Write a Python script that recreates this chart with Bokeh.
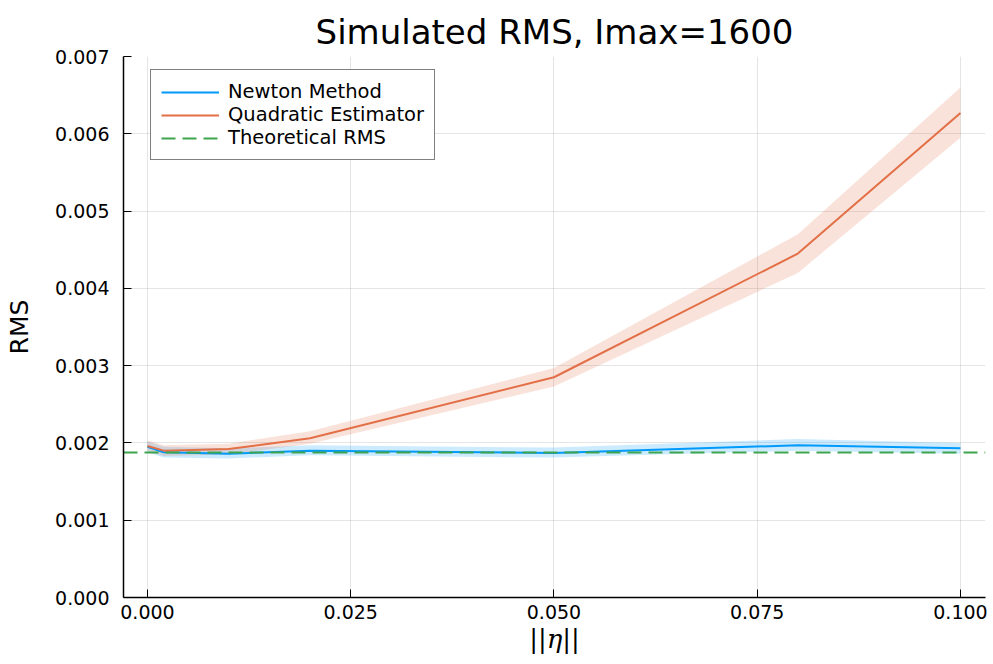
from bokeh.plotting import figure
from bokeh.models import Range1d, FixedTicker, NumeralTickFormatter, Legend, LegendItem
from bokeh.embed import file_html
from bokeh.resources import INLINE

eta = [0.0, 0.002, 0.01, 0.02, 0.05, 0.08, 0.1]
newton = [0.00195, 0.00188, 0.00186, 0.00190, 0.00187, 0.00197, 0.00193]
newton_lo = [0.00188, 0.00181, 0.00180, 0.00184, 0.00181, 0.00190, 0.00186]
newton_hi = [0.00202, 0.00195, 0.00193, 0.00197, 0.00194, 0.00205, 0.00200]
quad = [0.00196, 0.00190, 0.00192, 0.00206, 0.00285, 0.00445, 0.00627]
quad_lo = [0.00189, 0.00183, 0.00185, 0.00199, 0.00273, 0.00420, 0.00595]
quad_hi = [0.00203, 0.00197, 0.00199, 0.00215, 0.00297, 0.00470, 0.00660]
theoretical = 0.001876
x_ticks = [0.0, 0.025, 0.05, 0.075, 0.1]
y_ticks = [0.0, 0.001, 0.002, 0.003, 0.004, 0.005, 0.006, 0.007]

BLUE = "#009AFA"
ORANGE = "#E36F47"
GREEN = "#3EA44E"

X0, X1 = -0.00295, 0.10308

p = figure(width=993, height=664, output_backend="svg", toolbar_location=None,
           x_range=Range1d(X0, X1), y_range=Range1d(0, 0.007),
           min_border_left=123, min_border_right=8, min_border_top=56, min_border_bottom=67,
           title="Simulated RMS, Imax=1600")
p.outline_line_color = None
p.title.text_font = "DejaVu Sans"
p.title.text_font_size = "34px"
p.title.text_font_style = "normal"
p.title.text_color = "black"
p.title.align = "center"
p.title.offset = 0

p.varea(x=eta, y1=newton_lo, y2=newton_hi, fill_color=BLUE, fill_alpha=0.2)
p.varea(x=eta, y1=quad_lo, y2=quad_hi, fill_color=ORANGE, fill_alpha=0.2)
r1 = p.line(eta, newton, line_color=BLUE, line_width=2)
r2 = p.line(eta, quad, line_color=ORANGE, line_width=2)
r3 = p.line([X0, X1], [theoretical, theoretical], line_color=GREEN,
            line_width=2, line_dash="14 7")

legend = Legend(items=[LegendItem(label="Newton Method", renderers=[r1]),
                       LegendItem(label="Quadratic Estimator", renderers=[r2]),
                       LegendItem(label="Theoretical RMS", renderers=[r3])],
                location=(27, 437))
legend.border_line_color = "black"
legend.border_line_width = 1.5
legend.label_text_font = "DejaVu Sans"
legend.label_text_font_size = "19.5px"
legend.label_text_color = "black"
legend.label_height = 20
legend.glyph_height = 20
legend.glyph_width = 58
legend.spacing = 0
legend.padding = 10
legend.margin = 0
legend.label_standoff = 9
legend.background_fill_alpha = 1
p.add_layout(legend)

for ax in (p.xaxis, p.yaxis):
    ax.axis_line_color = "black"
    ax.axis_line_width = 1.5
    ax.major_tick_in = 8
    ax.major_tick_out = 0
    ax.major_tick_line_color = "black"
    ax.minor_tick_line_color = None
    ax.major_label_text_font = "DejaVu Sans"
    ax.major_label_text_font_size = "19px"
    ax.major_label_text_color = "black"
    ax.axis_label_text_font_style = "normal"
    ax.axis_label_text_color = "black"

p.xaxis.ticker = FixedTicker(ticks=x_ticks)
p.yaxis.ticker = FixedTicker(ticks=y_ticks)
p.xaxis.formatter = NumeralTickFormatter(format="0.000")
p.yaxis.formatter = NumeralTickFormatter(format="0.000")
p.xaxis.major_label_standoff = 7
p.yaxis.major_label_standoff = 14
p.yaxis.axis_label = "RMS"
p.yaxis.axis_label_text_font = "DejaVu Sans"
p.yaxis.axis_label_text_font_size = "25px"
p.yaxis.axis_label_standoff = 18
p.xaxis.axis_label = "||η||"
p.xaxis.axis_label_text_font = "DejaVu Serif"
p.xaxis.axis_label_text_font_style = "italic"
p.xaxis.axis_label_text_font_size = "26px"
p.xaxis.axis_label_standoff = 2

p.xgrid.ticker = FixedTicker(ticks=x_ticks)
p.ygrid.ticker = FixedTicker(ticks=y_ticks)
p.grid.grid_line_color = "black"
p.grid.grid_line_alpha = 0.1

open("out.html", "w").write(file_html(p, INLINE))
